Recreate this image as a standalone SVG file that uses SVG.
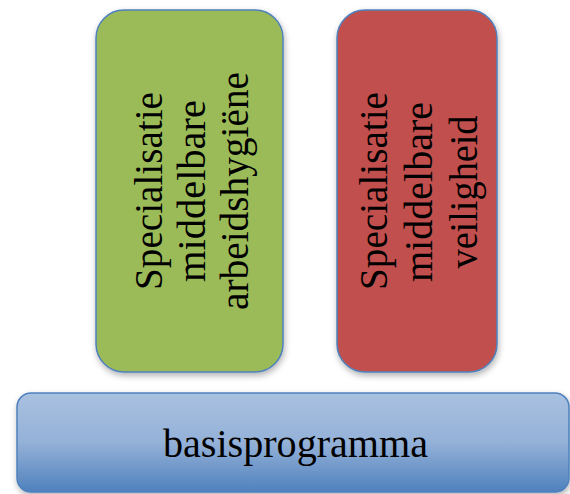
<svg xmlns="http://www.w3.org/2000/svg" width="570" height="494" viewBox="0 0 570 494">
<style>
.box{stroke:#4F81BD;stroke-width:1.5;filter:url(#sh)}
.t{font-family:"Liberation Serif","DejaVu Serif",serif;font-size:39px;fill:#000}
.v{text-anchor:middle}
</style>
<defs>
<filter id="sh" x="-20%" y="-20%" width="140%" height="140%">
<feDropShadow dx="1" dy="3" stdDeviation="3" flood-color="#000" flood-opacity="0.3"/>
</filter>
<linearGradient id="bg" x1="0" y1="0" x2="0" y2="1">
<stop offset="0" stop-color="#A9C1E0"/>
<stop offset="0.5" stop-color="#94B1D8"/>
<stop offset="1" stop-color="#4F81BD"/>
</linearGradient>
</defs>
<rect width="570" height="494" fill="#fff"/>
<g id="node-arbeidshygiene">
<rect class="box" x="96" y="10" width="187" height="362" rx="28" fill="#9BBB59"/>
<text class="t v" transform="translate(162 191) rotate(-90)" x="0" y="0" textLength="198" lengthAdjust="spacingAndGlyphs">Specialisatie</text>
<text class="t v" transform="translate(205 191) rotate(-90)" x="0" y="0" textLength="182" lengthAdjust="spacingAndGlyphs">middelbare</text>
<text class="t v" transform="translate(248 191) rotate(-90)" x="0" y="0" textLength="238" lengthAdjust="spacingAndGlyphs">arbeidshygiëne</text>
</g>
<g id="node-veiligheid">
<rect class="box" x="337" y="10" width="160" height="362" rx="28" fill="#C0504D"/>
<text class="t v" transform="translate(387 191) rotate(-90)" x="0" y="0" textLength="198" lengthAdjust="spacingAndGlyphs">Specialisatie</text>
<text class="t v" transform="translate(432 192) rotate(-90)" x="0" y="0" textLength="180" lengthAdjust="spacingAndGlyphs">middelbare</text>
<text class="t v" transform="translate(477 192) rotate(-90)" x="0" y="0" textLength="153" lengthAdjust="spacingAndGlyphs">veiligheid</text>
</g>
<g id="node-basisprogramma">
<rect class="box" x="17" y="393" width="552" height="99" rx="14" fill="url(#bg)"/>
<text class="t v" x="295.5" y="457" textLength="265" lengthAdjust="spacingAndGlyphs">basisprogramma</text>
</g>
<g id="connectors"></g>
</svg>
